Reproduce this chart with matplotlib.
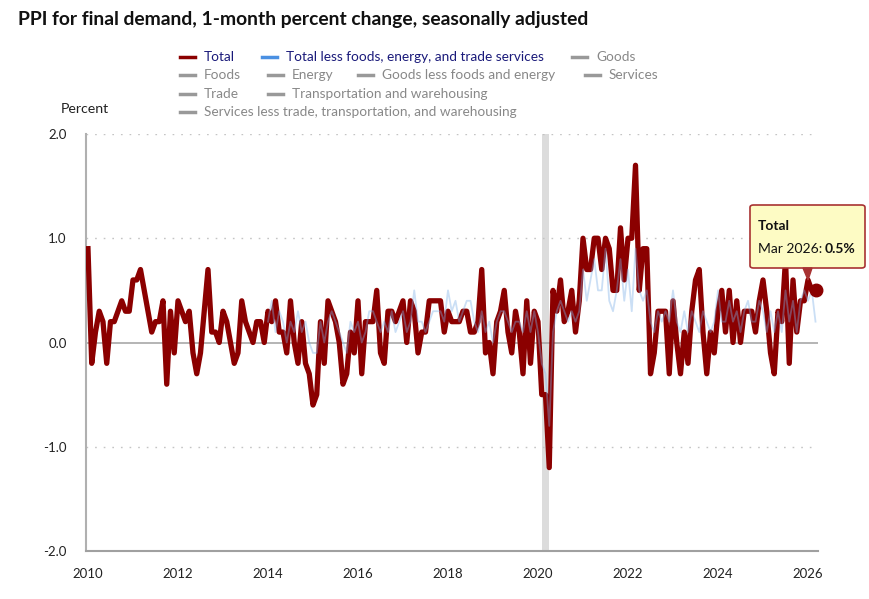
import matplotlib
matplotlib.use('Agg')
import matplotlib.pyplot as plt
import numpy as np
from matplotlib.lines import Line2D
from matplotlib.patches import FancyBboxPatch, Polygon

plt.rcParams['font.family'] = ['Lato', 'DejaVu Sans']

# PPI final demand, 1-month % change, Jan 2010 .. Mar 2026
total = [
    0.9, -0.2, 0.1, 0.3, 0.2, -0.2, 0.2, 0.2, 0.3, 0.4, 0.3, 0.3,      # 2010
    0.6, 0.6, 0.7, 0.5, 0.3, 0.1, 0.2, 0.2, 0.4, -0.4, 0.3, -0.1,      # 2011
    0.4, 0.3, 0.2, 0.3, -0.1, -0.3, -0.1, 0.3, 0.7, 0.1, 0.1, 0.0,     # 2012
    0.3, 0.2, 0.0, -0.2, -0.1, 0.4, 0.2, 0.1, 0.0, 0.2, 0.2, 0.0,      # 2013
    0.3, 0.2, 0.4, 0.1, 0.1, -0.1, 0.4, 0.0, -0.2, 0.2, -0.2, -0.3,    # 2014
    -0.6, -0.5, 0.2, -0.2, 0.4, 0.3, 0.2, 0.0, -0.4, -0.3, 0.1, -0.1,  # 2015
    0.4, -0.3, 0.2, 0.2, 0.2, 0.5, -0.1, -0.2, 0.3, 0.3, 0.2, 0.3,     # 2016
    0.4, 0.0, 0.4, 0.3, -0.1, 0.1, 0.1, 0.4, 0.4, 0.4, 0.4, 0.1,       # 2017
    0.3, 0.2, 0.2, 0.2, 0.3, 0.3, 0.1, 0.1, 0.2, 0.7, -0.1, 0.0,       # 2018
    -0.3, 0.2, 0.3, 0.5, 0.1, -0.1, 0.3, 0.1, -0.3, 0.4, -0.2, 0.3,    # 2019
    0.2, -0.5, -0.5, -1.2, 0.5, 0.3, 0.6, 0.2, 0.3, 0.5, 0.1, 0.4,     # 2020
    1.0, 0.7, 0.7, 1.0, 1.0, 0.7, 1.0, 0.9, 0.5, 0.5, 1.1, 0.6,        # 2021
    1.0, 1.0, 1.7, 0.5, 0.9, 0.9, -0.3, -0.1, 0.3, 0.3, 0.3, -0.3,     # 2022
    0.4, 0.0, -0.3, 0.1, -0.2, 0.3, 0.6, 0.7, 0.1, -0.3, 0.1, -0.1,    # 2023
    0.3, 0.5, 0.1, 0.5, 0.0, 0.4, 0.0, 0.3, 0.3, 0.3, 0.1, 0.4,        # 2024
    0.6, 0.3, -0.1, -0.3, 0.3, 0.2, 0.8, -0.2, 0.6, 0.1, 0.4, 0.4,     # 2025
    0.6, 0.5, 0.5,                                                     # 2026
]

# total less foods, energy, and trade services, starts Jan 2014
core_start = 2014
core = [
    0.2, 0.4, 0.1, 0.3, 0.2, 0.0, 0.2, 0.1, 0.3, 0.1, 0.2, 0.0,
    -0.1, -0.1, 0.2, 0.0, 0.2, 0.3, 0.2, 0.1, 0.0, -0.1, 0.2, 0.1,
    0.2, 0.0, 0.1, 0.3, 0.3, 0.2, 0.1, 0.2, 0.1, 0.3, 0.1, 0.2,
    0.3, 0.1, 0.2, 0.5, 0.2, 0.2, 0.1, 0.2, 0.3, 0.3, 0.3, 0.2,
    0.5, 0.3, 0.4, 0.2, 0.3, 0.4, 0.4, 0.2, 0.1, 0.3, 0.1, 0.2,
    0.0, 0.2, 0.3, 0.3, 0.2, 0.1, 0.2, 0.2, 0.1, 0.3, 0.1, 0.3,
    0.1, -0.2, -0.3, -0.8, 0.1, 0.3, 0.4, 0.3, 0.2, 0.3, 0.2, 0.3,
    0.7, 0.4, 0.6, 0.8, 0.5, 0.5, 0.9, 0.4, 0.3, 0.5, 0.8, 0.4,
    0.7, 0.3, 0.9, 0.5, 0.4, 0.5, 0.2, 0.1, 0.3, 0.2, 0.3, 0.2,
    0.5, 0.2, 0.1, 0.3, 0.1, 0.3, 0.2, 0.1, 0.3, 0.2, 0.1, 0.2,
    0.5, 0.2, 0.2, 0.4, 0.2, 0.3, 0.1, 0.3, 0.4, 0.2, 0.2, 0.4,
    0.3, 0.1, 0.3, 0.1, 0.3, 0.1, 0.5, 0.2, 0.4, 0.1, 0.4, 0.5,
    0.4, 0.5, 0.2,
]

start_year = 2010
recession = (2020 + 1/12, 2020 + 3/12)   # Feb-Apr 2020
year_ticks = [2010, 2012, 2014, 2016, 2018, 2020, 2022, 2024, 2026]
y_ticks = [-2.0, -1.0, 0.0, 1.0, 2.0]

legend_rows = [
    [('Total', '#8b0000', '#1a1a7a'),
     ('Total less foods, energy, and trade services', '#4a90e2', '#1a1a7a'),
     ('Goods', '#999999', '#888888')],
    [('Foods', '#999999', '#888888'), ('Energy', '#999999', '#888888'),
     ('Goods less foods and energy', '#999999', '#888888'),
     ('Services', '#999999', '#888888')],
    [('Trade', '#999999', '#888888'),
     ('Transportation and warehousing', '#999999', '#888888')],
    [('Services less trade, transportation, and warehousing', '#999999', '#888888')],
]

t_total = start_year + np.arange(len(total)) / 12
t_core = core_start + np.arange(len(core)) / 12

W, H = 870, 599
fig = plt.figure(figsize=(W / 100, H / 100), dpi=100)
ax = fig.add_axes([86 / W, (H - 551) / H, (818 - 86) / W, (551 - 134) / H])

def fx(px):
    return px / W

def fy(py):
    return 1 - py / H

# recession band
ax.axvspan(recession[0], recession[1], color='#dcdcdc', lw=0, zorder=0)

# grid
for g in [1.0, 2.0, -1.0]:
    ax.axhline(g, color='#c4c4c4', lw=1, linestyle=(0, (1.2, 5)), zorder=1)
ax.axhline(0, color='#a8a8a8', lw=1.2, zorder=1)

ax.plot(t_total, total, color='#8b0000', lw=3.8, solid_joinstyle='round', zorder=3)
ax.plot(t_core, core, color='#7fb0e8', lw=1.3, alpha=0.4, zorder=4)
ax.plot(t_total[-1], total[-1], 'o', color='#8b0000', ms=9, zorder=5, clip_on=False)

ax.set_xlim(2009.956, 2026.222)
ax.set_ylim(-2, 2)
ax.set_xticks(year_ticks)
ax.set_xticklabels([str(y) for y in year_ticks], fontsize=9.5, color='#222222')
ax.set_yticks(y_ticks)
ax.set_yticklabels(['%.1f' % v for v in y_ticks], fontsize=9.5, color='#222222')
ax.tick_params(axis='both', length=0)
ax.tick_params(axis='y', pad=14)
ax.tick_params(axis='x', pad=12)

for s in ['top', 'right']:
    ax.spines[s].set_visible(False)
ax.spines['left'].set_color('#b0b0b0')
ax.spines['left'].set_linewidth(1.5)
ax.spines['bottom'].set_color('#a0a0a0')
ax.spines['bottom'].set_linewidth(1.5)

fig.text(fx(18), fy(20), 'PPI for final demand, 1-month percent change, seasonally adjusted',
         fontsize=13.9, fontweight='bold', color='#111111', va='center')
fig.text(fx(61), fy(109), 'Percent', fontsize=10.2, color='#222222', va='center')

# legend drawn by hand (4 rows like the original)
row_y = [57, 75, 94, 112]
row_x = [[180, 262, 572], [180, 268, 358, 585], [180, 268], [180]]
for r, items in enumerate(legend_rows):
    for (label, lc, tc), x0 in zip(items, row_x[r]):
        fig.add_artist(Line2D([fx(x0), fx(x0 + 15)], [fy(row_y[r]), fy(row_y[r])],
                              color=lc, lw=2.5, transform=fig.transFigure))
        fig.text(fx(x0 + 24), fy(row_y[r]), label, fontsize=9.8, color=tc, va='center')

# tooltip for last point
box = FancyBboxPatch((fx(750), fy(268)), fx(865) - fx(750), fy(205) - fy(268),
                     boxstyle='round,pad=0,rounding_size=0.004', transform=fig.transFigure,
                     facecolor='#fdfbc4', edgecolor='#a83232', lw=1.2, zorder=10)
fig.add_artist(box)
fig.add_artist(Polygon([[fx(803), fy(268)], [fx(812), fy(268)], [fx(808), fy(280)]],
                       closed=True, transform=fig.transFigure, facecolor='#a83232',
                       edgecolor='#a83232', zorder=10))
fig.text(fx(758), fy(226), 'Total', fontsize=10, fontweight='bold', color='#111111',
         va='center', zorder=11)
fig.text(fx(758), fy(249), 'Mar 2026:', fontsize=10, color='#111111', va='center', zorder=11)
fig.text(fx(825), fy(249), '%.1f%%' % total[-1], fontsize=10, fontweight='bold',
         color='#111111', va='center', zorder=11)

fig.savefig('out.png', dpi=100)
